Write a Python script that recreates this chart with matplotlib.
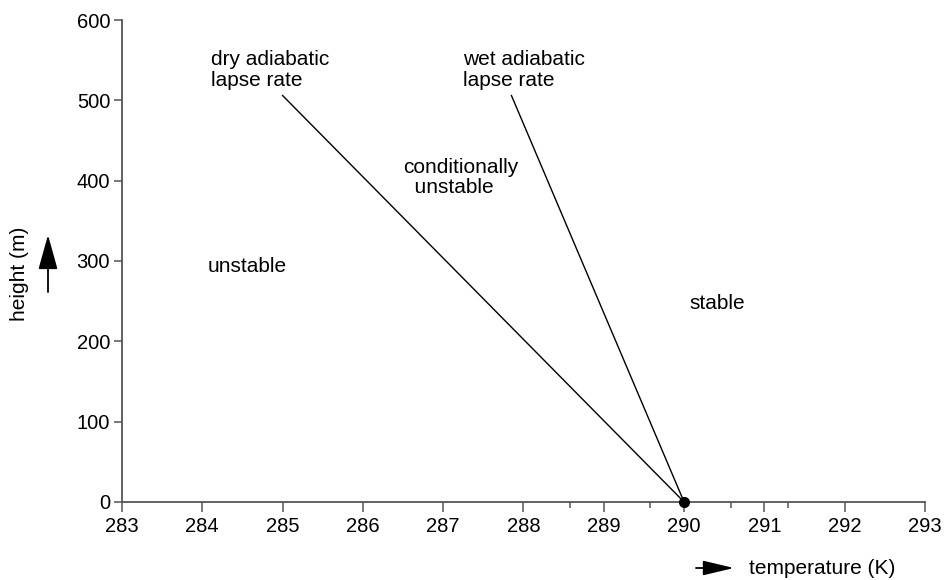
import matplotlib.pyplot as plt
from matplotlib.patches import FancyArrowPatch

plt.rcParams['font.family'] = ['Liberation Sans', 'DejaVu Sans']

# lapse-rate lines: both start at ground level, 290 K
base_t, base_h = 290.0, 0.0
dry_t = [290.0, 285.0]
dry_h = [0.0, 506.0]
wet_t = [290.0, 287.85]
wet_h = [0.0, 506.0]

x_ticks = [283, 284, 285, 286, 287, 288, 289, 290, 291, 292, 293]
x_minor = [288.58, 289.57, 290.59, 291.29]
y_ticks = [0, 100, 200, 300, 400, 500, 600]

fig = plt.figure(figsize=(9.45, 5.8), dpi=100)
ax = fig.add_axes([0.1291, 0.1345, 0.8497, 0.831])

ax.plot(dry_t, dry_h, color='black', lw=1.0)
ax.plot(wet_t, wet_h, color='black', lw=1.0)
ax.plot([base_t], [base_h], 'o', color='black', ms=7, clip_on=False, zorder=5)

ax.set_xlim(283, 293)
ax.set_ylim(0, 600)
ax.set_xticks(x_ticks)
ax.set_xticks(x_minor, minor=True)
ax.set_yticks(y_ticks)

for s in ['top', 'right']:
    ax.spines[s].set_visible(False)
for s in ['left', 'bottom']:
    ax.spines[s].set_color('#555555')
    ax.spines[s].set_linewidth(1.3)

ax.tick_params(axis='both', which='major', labelsize=14.5, color='#555555',
               width=1.1, direction='out')
ax.tick_params(axis='x', which='major', length=7, pad=4)
ax.tick_params(axis='y', which='major', length=6, pad=2.5)
ax.tick_params(axis='x', which='minor', color='#555555', width=1.1, length=4.5)

txt = dict(fontsize=15, color='black', linespacing=1.1)
ax.text(284.11, 538, 'dry adiabatic\nlapse rate', va='center', ha='left', **txt)
ax.text(287.25, 538, 'wet adiabatic\nlapse rate', va='center', ha='left', **txt)
ax.text(286.50, 404, 'conditionally\n  unstable', va='center', ha='left', **txt)
ax.text(284.07, 293, 'unstable', va='center', ha='left', **txt)
ax.text(290.07, 247, 'stable', va='center', ha='left', **txt)

# axis titles with arrows, placed in figure pixels
W, H = 945, 580
fig.text(20 / W, 1 - 274 / H, 'height (m)', rotation=90, ha='center',
         va='center', fontsize=15)
fig.add_artist(FancyArrowPatch(
    (48 / W, 1 - 292 / H), (48 / W, 1 - 235 / H), transform=fig.transFigure,
    arrowstyle='-|>,head_length=21.5,head_width=6', mutation_scale=1,
    shrinkA=0, shrinkB=0, color='black', lw=1.3))

fig.text(749 / W, 1 - 568 / H, 'temperature (K)', ha='left', va='center',
         fontsize=15)
fig.add_artist(FancyArrowPatch(
    (696 / W, 1 - 568 / H), (734 / W, 1 - 568 / H), transform=fig.transFigure,
    arrowstyle='-|>,head_length=19,head_width=4.5', mutation_scale=1,
    shrinkA=0, shrinkB=0, color='black', lw=1.3))

fig.savefig('out.png', dpi=100)
